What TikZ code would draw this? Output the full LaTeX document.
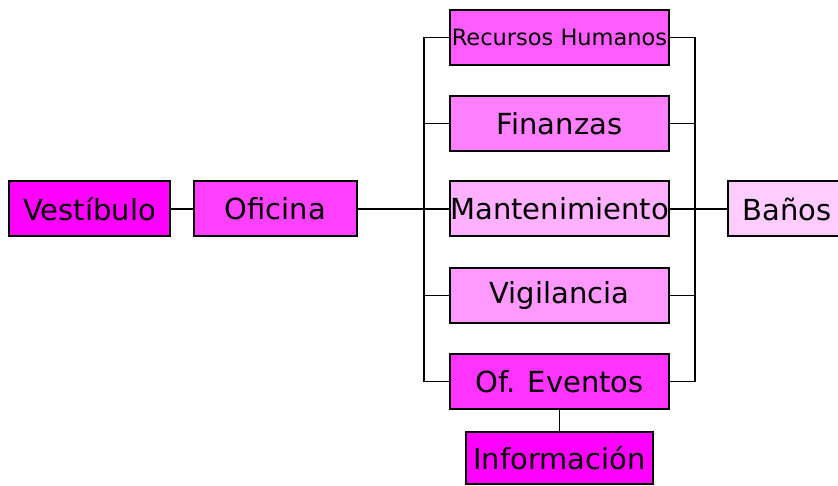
\documentclass[tikz,border=0pt]{standalone}
\usepackage{fontspec}
\setmainfont{DejaVu Sans}
\usetikzlibrary{positioning}
\definecolor{vestcolor}{HTML}{FF00FF}
\definecolor{oficolor}{HTML}{FF40FF}
\definecolor{rrhhcolor}{HTML}{FF5CFF}
\definecolor{fincolor}{HTML}{FF80FF}
\definecolor{mantcolor}{HTML}{FFB0FF}
\definecolor{vigcolor}{HTML}{FF99FF}
\definecolor{evencolor}{HTML}{FF33FF}
\definecolor{banocolor}{HTML}{FFCCFF}
\tikzset{area node/.style={rectangle, draw=black, line width=2pt,
    inner sep=0pt, minimum height=55pt, font=\fontsize{29}{32}\selectfont}}
\tikzset{dept node/.style={area node, minimum width=219pt}}
\tikzset{link edge/.style={draw=black, line width=1.5pt}}

\begin{document}
\begin{tikzpicture}
      [x=1pt, y=-1pt]
      \useasboundingbox (0,0) rectangle (838,486);

      \node [area node, fill=vestcolor, minimum width=161pt] (vest) at ( 89.5, 209) {Vestíbulo};
      \node [area node, fill=oficolor,  minimum width=163pt] (ofic) at (275.5, 209) {Oficina};

      \node [dept node, fill=rrhhcolor, font=\fontsize{22.5}{25}\selectfont] (rrhh) at (559.5, 37.5) {Recursos Humanos};
      \node [dept node, fill=fincolor]  (fin)  at (559.5, 123.5) {Finanzas};
      \node [dept node, fill=mantcolor] (mant) at (559.5, 209) {Mantenimiento};
      \node [dept node, fill=vigcolor]  (vig)  at (559.5, 295.5) {Vigilancia};
      \node [dept node, fill=evencolor] (even) at (559.5, 381.5) {Of. Eventos};

      \node [area node, fill=vestcolor, minimum width=187pt, minimum height=52pt] (info) at (559.5, 458) {Información};
      \node [area node, fill=banocolor, minimum width=118pt] (bano) at (787, 209) {Baños};

      \draw [link edge] (vest) -- (ofic);
      \draw [link edge] (ofic) -- (mant);
      \draw [link edge] (mant) -- (bano);
      \draw [link edge] (even) -- (info);

      % left bus
      \draw [link edge] (rrhh.west) -- ++(-25,0) |- (even.west);
      \draw [link edge] (fin.west)  -- ++(-25,0);
      \draw [link edge] (vig.west)  -- ++(-25,0);
      % right bus
      \draw [link edge] (rrhh.east) -- ++(25,0) |- (even.east);
      \draw [link edge] (fin.east)  -- ++(25,0);
      \draw [link edge] (vig.east)  -- ++(25,0);
\end{tikzpicture}
\end{document}
